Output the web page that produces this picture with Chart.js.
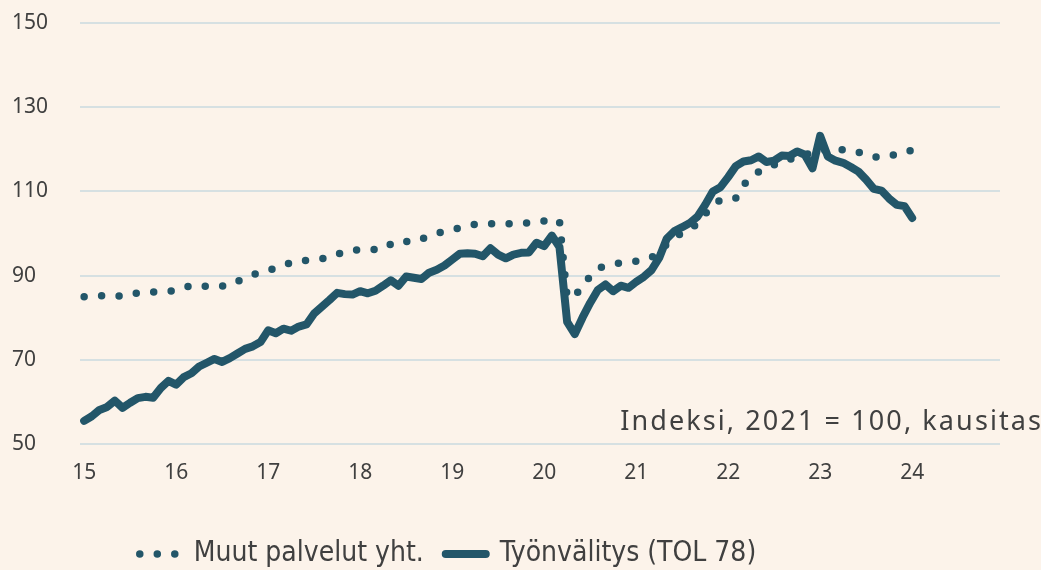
<!DOCTYPE html>
<html>
<head>
<meta charset="utf-8">
<script src="https://cdn.jsdelivr.net/npm/chart.js@4.4.1/dist/chart.umd.min.js"></script>
<style>
  html, body { margin: 0; padding: 0; background: #fcf3ea; }
  #wrap { width: 1041px; height: 570px; position: relative; }
</style>
</head>
<body>
<div id="wrap"><canvas id="chart"></canvas></div>
<script>
// monthly data, Jan 2015 .. Jan 2024
const startYear = 2015;
const xTickValues = [2015, 2016, 2017, 2018, 2019, 2020, 2021, 2022, 2023, 2024];
const xTickLabels = ["15", "16", "17", "18", "19", "20", "21", "22", "23", "24"];
const seriesNames = ["Muut palvelut yht.", "Työnvälitys (TOL 78)"];
const noteText = "Indeksi, 2021 = 100, kausitasoitettu";

const muut = [
  85.0, 85.1, 85.2, 85.3, 85.2, 85.1, 85.5, 85.9, 86.0, 86.1, 86.2, 86.3,
  86.5, 87.1, 87.7, 87.7, 87.4, 87.3, 87.5, 87.7, 88.6, 89.6, 90.2, 90.7,
  91.2, 91.8, 92.4, 93.1, 93.6, 93.6, 93.7, 94.0, 94.3, 95.0, 95.7, 96.0,
  96.1, 96.2, 96.2, 96.3, 97.5, 98.3, 98.1, 98.0, 98.7, 99.4, 100.0, 100.5,
  100.9, 101.3, 101.7, 102.2, 102.4, 102.3, 102.3, 102.3, 102.4, 102.4, 102.5, 102.7,
  103.0, 103.3, 103.0, 84.8, 85.3, 87.3, 89.9, 91.7, 92.3, 92.7, 93.0, 93.2,
  93.4, 93.8, 94.3, 95.7, 97.5, 99.0, 100.2, 101.1, 102.3, 104.6, 106.7, 108.0,
  108.0, 108.4, 111.5, 113.3, 114.7, 115.5, 116.3, 117.0, 117.6, 118.2, 118.7, 119.2,
  119.6, 119.9, 120.0, 119.9, 119.8, 119.3, 118.5, 118.2, 118.2, 118.3, 118.9, 119.6,
  119.7
];

const tyonvalitys = [
  55.5, 56.6, 58.1, 58.8, 60.3, 58.6, 59.8, 60.9, 61.2, 61.0, 63.3, 65.0,
  64.1, 65.9, 66.8, 68.4, 69.3, 70.2, 69.5, 70.4, 71.5, 72.6, 73.2, 74.2,
  77.0, 76.3, 77.4, 76.9, 77.9, 78.4, 81.0, 82.6, 84.2, 85.9, 85.6, 85.5,
  86.3, 85.8, 86.4, 87.6, 88.9, 87.6, 89.8, 89.5, 89.2, 90.7, 91.4, 92.4,
  93.8, 95.2, 95.3, 95.2, 94.6, 96.5, 95.0, 94.1, 95.0, 95.4, 95.5, 97.8,
  97.0, 99.5, 96.8, 79.0, 76.1, 80.0, 83.5, 86.6, 87.9, 86.3, 87.6, 87.1,
  88.5, 89.7, 91.3, 94.2, 98.8, 100.6, 101.5, 102.5, 104.0, 106.8, 110.0, 111.0,
  113.4, 116.0, 117.1, 117.4, 118.3, 117.0, 117.3, 118.5, 118.4, 119.5, 118.7, 115.5,
  123.2, 118.3, 117.3, 116.8, 115.8, 114.7, 112.8, 110.6, 110.2, 108.3, 106.8, 106.5,
  103.7
];

const months = tyonvalitys.map((_, i) => startYear + i / 12);

const lineColor = "#235669";
const textColor = "#404040";
const gridColor = "#d6e0e2";
const tickFont = { family: "'Noto Sans', 'Open Sans', sans-serif", size: 21 };
const legendFont = { family: "'Liberation Sans Narrow', 'DejaVu Sans Condensed', 'Noto Sans', sans-serif", size: 28 };

const notePlugin = {
  id: "note",
  afterLayout(chart) {
    // legend row sits left of centre in the original
    chart.legend.left -= 58;
    chart.legend.right -= 58;
  },
  afterDraw(chart) {
    const { ctx, scales } = chart;
    ctx.save();
    ctx.font = "27px 'Noto Sans', 'Open Sans', sans-serif";
    ctx.letterSpacing = "2.1px";
    ctx.fillStyle = textColor;
    ctx.textBaseline = "alphabetic";
    ctx.fillText(noteText, scales.x.getPixelForValue(2021) - 16, scales.y.getPixelForValue(50) - 14);
    ctx.restore();
  }
};

new Chart(document.getElementById("chart"), {
  type: "line",
  data: {
    datasets: [
      {
        label: seriesNames[0],
        data: muut.map((v, i) => ({ x: months[i], y: v })),
        borderColor: lineColor,
        backgroundColor: lineColor,
        borderWidth: 7.5,
        borderDash: [0, 17.5],
        borderCapStyle: "round",
        pointRadius: 0,
        order: 1
      },
      {
        label: seriesNames[1],
        data: tyonvalitys.map((v, i) => ({ x: months[i], y: v })),
        borderColor: lineColor,
        backgroundColor: lineColor,
        borderWidth: 8,
        borderCapStyle: "round",
        borderJoinStyle: "round",
        pointRadius: 0,
        order: 0
      }
    ]
  },
  options: {
    responsive: true,
    maintainAspectRatio: false,
    animation: false,
    layout: { padding: { left: 12, right: 41, top: 23, bottom: -8 } },
    scales: {
      x: {
        type: "linear",
        min: 2014.955,
        max: 2024.955,
        grid: { display: false, drawTicks: false },
        border: { display: false },
        afterBuildTicks: (s) => { s.ticks = xTickValues.map(v => ({ value: v })); },
        afterFit: (s) => { s.height = 74; },
        ticks: {
          autoSkip: false,
          maxRotation: 0,
          padding: 16,
          color: textColor,
          font: tickFont,
          callback: (v) => xTickLabels[xTickValues.indexOf(v)]
        }
      },
      y: {
        min: 50,
        max: 150,
        border: { display: false },
        grid: { color: gridColor, lineWidth: 2, drawTicks: false },
        afterFit: (s) => { s.width = 68; },
        ticks: {
          stepSize: 20,
          crossAlign: "far",
          padding: 0,
          color: textColor,
          font: tickFont
        }
      }
    },
    plugins: {
      legend: {
        position: "bottom",
        labels: {
          usePointStyle: true,
          pointStyleWidth: 40,
          boxHeight: 8,
          padding: 22,
          color: textColor,
          font: legendFont,
          generateLabels: (chart) => chart.data.datasets.map((ds, i) => ({
            text: ds.label,
            datasetIndex: i,
            hidden: false,
            fillStyle: lineColor,
            strokeStyle: lineColor,
            fontColor: textColor,
            lineWidth: ds.borderWidth,
            lineDash: ds.borderDash || [],
            lineCap: "round",
            pointStyle: "line"
          }))
        }
      },
      tooltip: { enabled: false }
    }
  },
  plugins: [notePlugin]
});
</script>
</body>
</html>
